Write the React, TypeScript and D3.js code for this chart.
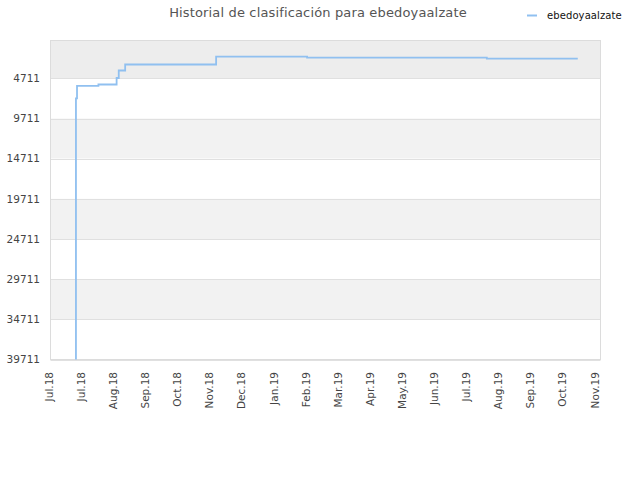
import React from 'react'
import * as d3 from 'd3'

// ranking history (lower = better)
const dates = [
    '2018-07-26', '2018-07-26', '2018-07-27', '2018-08-16', '2018-09-02', '2018-09-04',
    '2018-09-10', '2018-12-04', '2019-02-27', '2019-08-14', '2019-11-07',
]
const ranks = [39711, 7195, 5640, 5478, 4668, 3735, 2988, 2017, 2141, 2266, 2266]

const yTicks = [4711, 9711, 14711, 19711, 24711, 29711, 34711, 39711]
const xTickLabels = [
    'Jul.18', 'Jul.18', 'Aug.18', 'Sep.18', 'Oct.18', 'Nov.18', 'Dec.18', 'Jan.19', 'Feb.19',
    'Mar.19', 'Apr.19', 'May.19', 'Jun.19', 'Jul.19', 'Aug.19', 'Sep.19', 'Oct.19', 'Nov.19',
]
const seriesName = 'ebedoyaalzate'
const title = 'Historial de clasificación para ebedoyaalzate'

const W = 640
const H = 480
const plot = { left: 50.5, right: 600.5, top: 40.5, bottom: 359.5 }
const lineColor = '#90c0f0'
const font = '"DejaVu Sans", Verdana, sans-serif'

const App = () => {
    const parse = d3.utcParse('%Y-%m-%d')
    const start = parse('2018-07-01') as Date
    // ticks every 30 days from the start
    const tickDates = xTickLabels.map((_, i) => d3.utcDay.offset(start, i * 30))

    const x = d3
        .scaleUtc()
        .domain([start, tickDates[tickDates.length - 1]])
        .range([49.2, 594.9])
    const y = d3.scaleLinear().domain([0, 39711]).range([plot.top, plot.bottom])

    const points = dates.map((d, i) => [x(parse(d) as Date), y(ranks[i])] as [number, number])
    const line = d3.line().curve(d3.curveStepAfter)(points) || ''

    // band edges
    const edges = [0, ...yTicks]
    const bands = edges.slice(0, -1).map((v, i) => ({
        y0: y(v),
        y1: y(edges[i + 1]),
        fill: i === 0 ? '#ededed' : i % 2 === 0 ? '#f2f2f2' : '#ffffff',
    }))

    return (
        <svg
            width={W}
            height={H}
            style={{ position: 'absolute', left: 0, top: 0, background: '#fff' }}
            fontFamily={font}
        >
            {/* Title */}
            <text x={318} y={17} textAnchor="middle" fontSize={13} fill="#555" letterSpacing={0.15}>
                {title}
            </text>

            {/* Legend */}
            <line x1={527} x2={537} y1={15.5} y2={15.5} stroke={lineColor} strokeWidth={2} />
            <text x={547} y={19} fontSize={10} fill="#111" letterSpacing={0.1}>
                {seriesName}
            </text>

            {/* Bands */}
            {bands.map((b, i) => (
                <rect
                    key={i}
                    x={plot.left}
                    y={b.y0}
                    width={plot.right - plot.left}
                    height={b.y1 - b.y0}
                    fill={b.fill}
                />
            ))}

            {/* Grid lines */}
            {yTicks.map(t => (
                <line
                    key={t}
                    x1={plot.left}
                    x2={plot.right}
                    y1={Math.round(y(t)) + 0.5}
                    y2={Math.round(y(t)) + 0.5}
                    stroke="#e0e0e0"
                />
            ))}

            {/* Frame */}
            <rect
                x={plot.left}
                y={plot.top}
                width={plot.right - plot.left}
                height={plot.bottom - plot.top}
                fill="none"
                stroke="#dcdcdc"
            />

            {/* Y labels */}
            {yTicks.map(t => (
                <text
                    key={t}
                    x={40}
                    y={y(t)}
                    dy="0.35em"
                    textAnchor="end"
                    fontSize={10.5}
                    fill="#444"
                >
                    {t}
                </text>
            ))}

            {/* X labels */}
            {tickDates.map((d, i) => (
                <text
                    key={i}
                    transform={`translate(${x(d)},372) rotate(-90)`}
                    dy="0.35em"
                    textAnchor="end"
                    fontSize={10.5}
                    fill="#444"
                >
                    {xTickLabels[i]}
                </text>
            ))}

            {/* Series */}
            <path d={line} fill="none" stroke={lineColor} strokeWidth={1.8} />
        </svg>
    )
}

export default App
